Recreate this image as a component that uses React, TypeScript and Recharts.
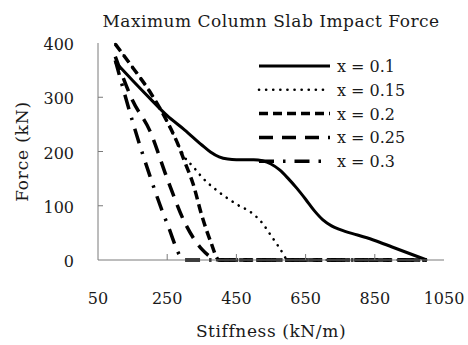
import React from 'react';
import { LineChart, Line, XAxis, YAxis, Legend } from 'recharts';

const FONT = '"DejaVu Serif", serif';
const AXIS = '#7a7a7a';
const TEXT = '#1a1a1a';
const TITLE = 'Maximum Column Slab Impact Force';

// Stiffness (kN/m) and Force (kN) per series
const stiff01 = [100, 150, 200, 250, 300, 350, 375, 400, 425, 450, 500, 525, 550, 575, 600, 625, 650, 675, 700, 725, 750, 800, 850, 900, 950, 1000];
const force01 = [365, 331, 298, 266, 240, 212, 199, 190, 186, 185, 185, 183, 177, 166, 150, 132, 112, 91, 74, 63, 56, 46, 36, 24, 12, 0];

const stiff015 = [100, 150, 200, 250, 280, 300, 325, 350, 400, 450, 500, 525, 550, 575, 600, 1000];
const force015 = [398, 355, 310, 255, 215, 190, 172, 153, 125, 103, 84, 68, 45, 22, 0, 0];

const stiff02 = [100, 150, 200, 250, 280, 300, 325, 350, 375, 400, 1000];
const force02 = [398, 355, 310, 255, 215, 182, 140, 82, 35, 0, 0];

const stiff025 = [100, 150, 200, 250, 300, 350, 400, 1000];
const force025 = [375, 294, 238, 150, 70, 20, 0, 0];

const stiff03 = [100, 120, 150, 200, 250, 300, 1000];
const force03 = [368, 322, 255, 155, 67, 0, 0];

const seriesNames = ['x = 0.1', 'x = 0.15', 'x = 0.2', 'x = 0.25', 'x = 0.3'];
const xTicks = [50, 250, 450, 650, 850, 1050];
const yTicks = [0, 100, 200, 300, 400];

const toRows = (xs: number[], ys: number[]) => xs.map((k, i) => ({ k, f: ys[i] }));

const series = [
  { name: seriesNames[0], data: toRows(stiff01, force01), width: 3, dash: undefined as string | undefined, cap: 'butt' as const },
  { name: seriesNames[1], data: toRows(stiff015, force015), width: 2.6, dash: '0.1 7', cap: 'round' as const },
  { name: seriesNames[2], data: toRows(stiff02, force02), width: 3.5, dash: '9 5', cap: 'butt' as const },
  { name: seriesNames[3], data: toRows(stiff025, force025), width: 3.5, dash: '14 9', cap: 'butt' as const },
  { name: seriesNames[4], data: toRows(stiff03, force03), width: 3.5, dash: '15 9 2.5 9', cap: 'butt' as const },
];

const XTick = (props: any) => {
  const { x, y, payload } = props;
  return (
    <g>
      {payload.value > 50 && payload.value < 1050 && (
        <line x1={x} x2={x} y1={y} y2={y - 6} stroke={AXIS} strokeWidth={1} />
      )}
      <text x={x} y={y + 43.5} textAnchor="middle" fontFamily={FONT} fontSize={16} fill={TEXT}>
        {payload.value}
      </text>
    </g>
  );
};

const YTick = (props: any) => {
  const { x, y, payload } = props;
  return (
    <g>
      {payload.value > 0 && payload.value < 400 && (
        <line x1={x} x2={x + 5} y1={y} y2={y} stroke={AXIS} strokeWidth={1} />
      )}
      <text x={x - 24} y={y + 7} textAnchor="end" fontFamily={FONT} fontSize={16} fill={TEXT}>
        {payload.value}
      </text>
    </g>
  );
};

const renderLegend = () => (
  <svg width={468} height={345} style={{ position: 'absolute', left: 0, top: 0, overflow: 'visible' }}>
    <text x={271} y={27} textAnchor="middle" fontFamily={FONT} fontSize={17} letterSpacing={0.5} fill={TEXT}>{TITLE}</text>
    {series.map((s, i) => {
      const y = 66 + i * 23.8;
      return (
        <g key={s.name}>
          <line x1={259} x2={330} y1={y} y2={y} stroke="#000" strokeWidth={s.width}
            strokeDasharray={s.dash} strokeLinecap={s.cap} />
          <text x={337} y={y + 6} fontFamily={FONT} fontSize={16} fill={TEXT}>{s.name}</text>
        </g>
      );
    })}
  </svg>
);

export default function App() {
  return (
    <div style={{ position: 'absolute', left: 0, top: 0, width: 468, height: 345, background: '#fff' }}>
      <LineChart width={468} height={345} margin={{ top: 43, right: 24, bottom: 0, left: 0 }}>
        <XAxis
          dataKey="k"
          type="number"
          domain={[50, 1050]}
          ticks={xTicks}
          interval={0}
          height={85}
          tickSize={0}
          tickMargin={0}
          tickLine={false}
          axisLine={{ stroke: AXIS, strokeWidth: 1 }}
          tick={XTick}
          allowDuplicatedCategory={false}
          label={{
            content: (p: any) => {
              const vb = p.viewBox;
              return (
                <text x={vb.x + vb.width / 2} y={vb.y + 77} textAnchor="middle" fontFamily={FONT} fontSize={17} letterSpacing={0.6} fill={TEXT}>
                  Stiffness (kN/m)
                </text>
              );
            },
          }}
        />
        <XAxis
          xAxisId="top"
          orientation="top"
          dataKey="k"
          type="number"
          domain={[50, 1050]}
          height={0}
          tick={false}
          tickLine={false}
          axisLine={{ stroke: AXIS, strokeWidth: 1 }}
        />
        <YAxis
          type="number"
          domain={[0, 400]}
          ticks={yTicks}
          interval={0}
          width={98}
          tickSize={0}
          tickMargin={0}
          tickLine={false}
          axisLine={{ stroke: AXIS, strokeWidth: 1 }}
          tick={YTick}
          label={{
            content: (p: any) => {
              const vb = p.viewBox;
              const cy = vb.y + vb.height / 2;
              return (
                <text x={28} y={cy} transform={`rotate(-90, 28, ${cy})`} textAnchor="middle" fontFamily={FONT} fontSize={17} letterSpacing={0.8} fill={TEXT}>
                  Force (kN)
                </text>
              );
            },
          }}
        />
        <YAxis
          yAxisId="right"
          orientation="right"
          type="number"
          domain={[0, 400]}
          width={0}
          tick={false}
          tickLine={false}
          axisLine={{ stroke: AXIS, strokeWidth: 1 }}
        />
        <Legend
          layout="vertical"
          align="center"
          verticalAlign="middle"
          content={renderLegend}
          wrapperStyle={{ position: 'absolute', left: 0, top: 0, width: 468, height: 345, pointerEvents: 'none' }}
        />
        {series.map((s) => (
          <Line
            key={s.name}
            name={s.name}
            data={s.data}
            dataKey="f"
            type="monotone"
            stroke="#000"
            strokeWidth={s.width}
            strokeDasharray={s.dash}
            strokeLinecap={s.cap}
            dot={false}
            activeDot={false}
            legendType="line"
            isAnimationActive={false}
          />
        ))}
      </LineChart>
    </div>
  );
}
